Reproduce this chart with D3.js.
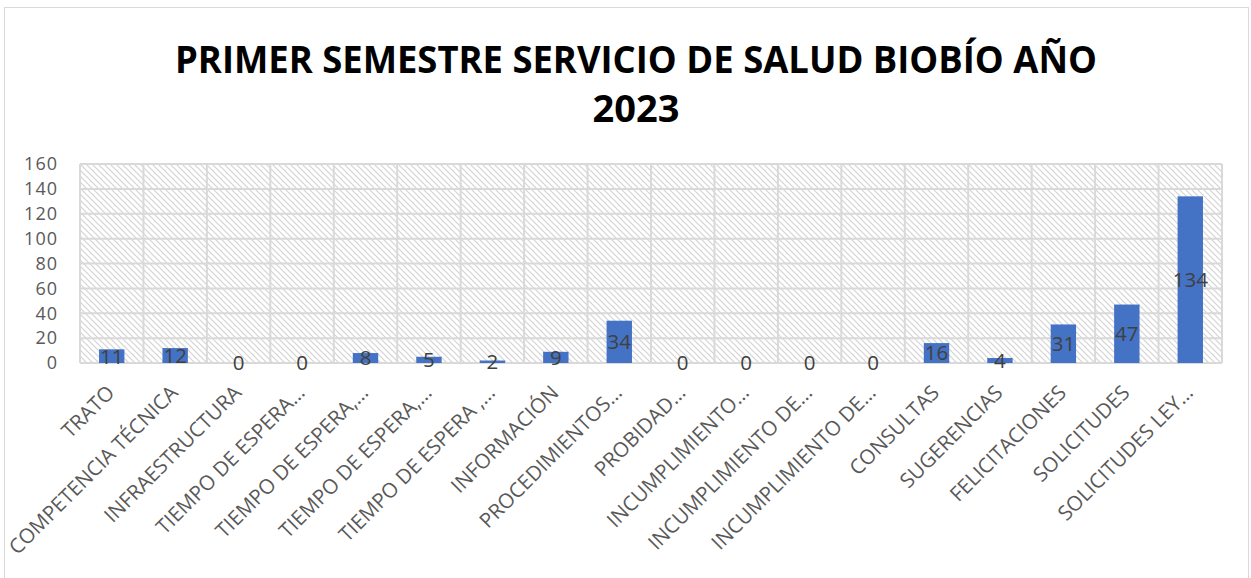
<!DOCTYPE html>
<html>
<head>
<meta charset="utf-8">
<script src="https://cdn.jsdelivr.net/npm/d3@7"></script>
<style>
  body { margin: 0; background: #fff; }
  svg { display: block; }
</style>
</head>
<body>
<svg id="chart" width="1251" height="578"></svg>
<script>
// data
const categories = [
  "TRATO", "COMPETENCIA TÉCNICA", "INFRAESTRUCTURA", "TIEMPO DE ESPERA…",
  "TIEMPO DE ESPERA,…", "TIEMPO DE ESPERA,…", "TIEMPO DE ESPERA ,…", "INFORMACIÓN",
  "PROCEDIMIENTOS…", "PROBIDAD…", "INCUMPLIMIENTO…", "INCUMPLIMIENTO DE…",
  "INCUMPLIMIENTO DE…", "CONSULTAS", "SUGERENCIAS", "FELICITACIONES",
  "SOLICITUDES", "SOLICITUDES LEY…"
];
const values = [11, 12, 0, 0, 8, 5, 2, 9, 34, 0, 0, 0, 0, 16, 4, 31, 47, 134];
const yTicks = [0, 20, 40, 60, 80, 100, 120, 140, 160];
const titleLines = ["PRIMER SEMESTRE SERVICIO DE SALUD BIOBÍO AÑO", "2023"];

const margin = { top: 164, right: 29, bottom: 215, left: 80 };
const W = 1251, H = 578;
const width = W - margin.left - margin.right;
const height = H - margin.top - margin.bottom;
const font = "Open Sans, Lato, sans-serif";

const svg = d3.select("#chart");

// chart frame
svg.append("rect")
    .attr("x", 4.5).attr("y", 7.5)
    .attr("width", 1244).attr("height", 590)
    .attr("fill", "#fff")
    .attr("stroke", "#d9d9d9");

// hatch pattern for plot area
const defs = svg.append("defs");
const pat = defs.append("pattern")
    .attr("id", "hatch")
    .attr("patternUnits", "userSpaceOnUse")
    .attr("width", 6).attr("height", 6);
pat.append("rect").attr("width", 6).attr("height", 6).attr("fill", "#fff");
pat.append("path")
    .attr("d", "M-1,-1 L7,7 M-1,5 L1,7 M5,-1 L7,1")
    .attr("stroke", "#d4d4d4")
    .attr("stroke-width", 1.2);

// title
svg.append("g").selectAll("text").data(titleLines).join("text")
    .attr("x", 636)
    .attr("y", (d, i) => 73 + i * 49)
    .attr("text-anchor", "middle")
    .attr("font-family", font)
    .attr("font-weight", "bold")
    .attr("font-size", 38)
    .attr("fill", "#000")
    .attr("textLength", (d, i) => i === 0 ? 922 : null)
    .attr("lengthAdjust", "spacingAndGlyphs")
    .text(d => d);

const g = svg.append("g").attr("transform", `translate(${margin.left},${margin.top})`);

const x = d3.scaleBand().domain(d3.range(categories.length)).range([0, width]).paddingInner(0).paddingOuter(0);
const y = d3.scaleLinear().domain([0, 160]).range([height, 0]);

g.append("rect")
    .attr("width", width).attr("height", height)
    .attr("fill", "url(#hatch)");

// horizontal gridlines
g.append("g").selectAll("line").data(yTicks).join("line")
    .attr("x1", 0).attr("x2", width)
    .attr("y1", d => y(d)).attr("y2", d => y(d))
    .attr("stroke", "#d9d9d9").attr("stroke-width", 2);

// vertical gridlines at category boundaries
g.append("g").selectAll("line").data(d3.range(categories.length + 1)).join("line")
    .attr("x1", i => i < categories.length ? x(i) : width)
    .attr("x2", i => i < categories.length ? x(i) : width)
    .attr("y1", 0).attr("y2", height)
    .attr("stroke", "#d9d9d9").attr("stroke-width", 2);

// y axis labels
const yAxis = g.append("g")
    .call(d3.axisLeft(y).tickValues(yTicks).tickSize(0).tickPadding(22));
yAxis.select(".domain").remove();
yAxis.selectAll("text")
    .attr("font-family", font)
    .attr("font-size", 18)
    .attr("letter-spacing", 1)
    .attr("fill", "#595959");

// bars
const barW = x.bandwidth() * 0.4;
g.append("g").selectAll("rect").data(values).join("rect")
    .attr("x", (d, i) => x(i) + (x.bandwidth() - barW) / 2)
    .attr("y", d => y(d))
    .attr("width", barW)
    .attr("height", d => y(0) - y(d))
    .attr("fill", "#4472c4");

// data labels, centred in bar
g.append("g").selectAll("text").data(values).join("text")
    .attr("x", (d, i) => x(i) + x.bandwidth() / 2)
    .attr("y", d => (y(d) + y(0)) / 2)
    .attr("dy", "0.36em")
    .attr("text-anchor", "middle")
    .attr("font-family", font)
    .attr("font-size", 20.5)
    .attr("fill", "#404040")
    .text(d => d);

// x axis labels rotated
const xAxis = g.append("g")
    .attr("transform", `translate(0,${height})`)
    .call(d3.axisBottom(x).tickFormat(i => categories[i]).tickSize(0).tickPadding(0));
xAxis.select(".domain").remove();
xAxis.selectAll("text")
    .attr("font-family", font)
    .attr("font-size", 20.5)
    .attr("fill", "#595959")
    .attr("text-anchor", "end")
    .attr("dy", null)
    .attr("y", null)
    .attr("transform", "translate(4,31) rotate(-45)");
</script>
</body>
</html>
